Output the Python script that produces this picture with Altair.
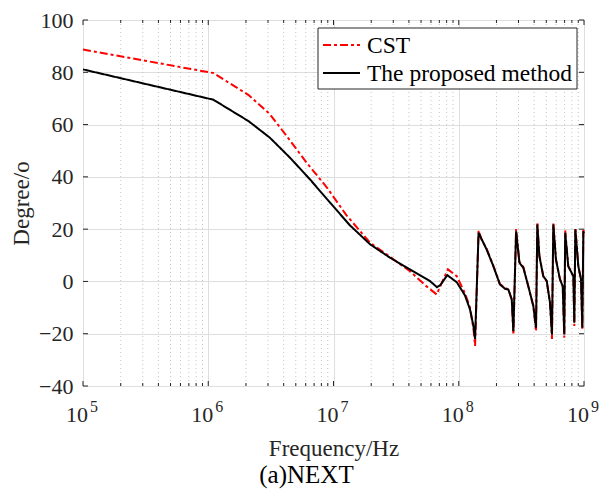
import altair as alt
import pandas as pd

# ---------------- data ----------------
series_names = ["CST", "The proposed method"]

cst_freq = [1e5, 1.1e6, 2.1e6, 3.1e6, 4.23e6, 6.11e6, 8.83e6, 1.27e7, 1.96e7, 2.82e7,
            4.08e7, 5.5e7, 6.67e7, 7.4e7, 8.2e7, 9.64e7, 1.12e8, 1.23e8, 1.31e8, 1.35e8,
            1.44e8, 1.52e8, 1.67e8, 1.89e8, 2.13e8, 2.34e8, 2.49e8, 2.65e8, 2.73e8, 2.87e8,
            3.05e8, 3.28e8, 3.59e8, 3.94e8, 4.14e8, 4.24e8, 4.40e8, 4.73e8, 5.04e8, 5.35e8,
            5.55e8, 5.69e8, 5.97e8, 6.43e8, 6.76e8, 6.96e8, 7.08e8, 7.49e8, 8.22e8, 8.37e8,
            8.53e8, 9.01e8, 9.46e8, 9.70e8, 9.88e8, 1e9]
cst_deg = [88.7, 79.7, 71.3, 64.0, 55.6, 45.4, 36.0, 25.3, 14.8, 9.4,
           3.9, -1.8, -5.0, 0.0, 4.6, 2.0, -4.5, -10.0, -18.0, -24.7,
           19.5, 16.0, 12.5, 6.0, -1.0, -2.5, -3.0, -7.0, -20.5, 20.0,
           7.5, 5.5, -1.8, -9.4, -19.0, 22.2, 10.0, 2.0, 0.0, -8.0,
           -22.0, 22.2, 8.5, 0.8, -1.8, -21.5, 19.5, 5.8, 2.0, -17.0,
           20.6, 5.8, 0.8, -18.5, 20.3, 19.5]

prop_freq = [1e5, 1.1e6, 2.1e6, 3.1e6, 4.5e6, 6.5e6, 9.4e6, 1.35e7, 1.96e7, 2.82e7,
             4.08e7, 5.9e7, 6.7e7, 7.1e7, 8.1e7, 9.64e7, 1.12e8, 1.23e8, 1.31e8, 1.35e8,
             1.44e8, 1.67e8, 1.89e8, 2.13e8, 2.34e8, 2.49e8, 2.65e8, 2.73e8, 2.87e8,
             3.05e8, 3.28e8, 3.59e8, 3.94e8, 4.14e8, 4.24e8, 4.40e8, 4.73e8, 5.04e8, 5.35e8,
             5.55e8, 5.69e8, 5.97e8, 6.43e8, 6.76e8, 6.96e8, 7.08e8, 7.49e8, 8.22e8, 8.37e8,
             8.53e8, 9.01e8, 9.46e8, 9.70e8, 9.88e8, 1e9]
prop_deg = [81.1, 69.5, 61.3, 55.0, 47.3, 39.0, 30.1, 21.5, 14.2, 9.1,
            4.6, 0.1, -2.2, -1.5, 2.4, -0.3, -5.3, -10.7, -17.1, -22.0,
            18.6, 12.2, 5.8, -1.1, -2.8, -3.1, -6.9, -19.0, 19.2,
            7.2, 5.2, -1.8, -9.4, -17.7, 21.8, 9.7, 2.0, 0.2, -8.1,
            -20.3, 21.8, 8.4, 0.8, -1.8, -20.3, 18.6, 5.8, 2.0, -15.8,
            19.9, 5.8, 0.8, -17.7, 19.2, 18.5]

x_ticks = [1e5, 1e6, 1e7, 1e8, 1e9]
x_tick_base = ["10", "10", "10", "10", "10"]
x_tick_exp = ["5", "6", "7", "8", "9"]
y_ticks = [-40, -20, 0, 20, 40, 60, 80, 100]
minor_x = [m * 10 ** k for k in range(5, 9) for m in range(2, 10)]
caption = "(a)NEXT"

# ---------------- style ----------------
W, H = 501, 366
FONT = "Liberation Serif"
TXT = "#262626"
X_MIN, X_MAX = 1e5, 1e9
Y_MIN, Y_MAX = -40, 100
COLORS = ["#ff0000", "#000000"]
DASHES = [[8, 3, 3, 3], [1, 0]]

df = pd.concat([
    pd.DataFrame({"freq": cst_freq, "deg": cst_deg, "series": series_names[0]}),
    pd.DataFrame({"freq": prop_freq, "deg": prop_deg, "series": series_names[1]}),
])

x_scale = alt.Scale(type="log", domain=[X_MIN, X_MAX], nice=False)
y_scale = alt.Scale(domain=[Y_MIN, Y_MAX], nice=False, zero=False)

x_axis = alt.Axis(values=x_ticks, labels=False, ticks=False, domain=False,
                  grid=True, gridColor="#dedede", gridWidth=1,
                  title="Frequency/Hz", titleFont=FONT, titleFontSize=23,
                  titleFontWeight="normal", titleColor=TXT,
                  titleX=W / 2, titleY=69, titleBaseline="alphabetic",
                  titleAlign="center")
y_axis = alt.Axis(values=y_ticks, ticks=False, domain=False, grid=True,
                  gridColor="#dedede", gridWidth=1,
                  labelFont=FONT, labelFontSize=22, labelColor=TXT, labelPadding=10,
                  title="Degree/o", titleFont=FONT, titleFontSize=23,
                  titleFontWeight="normal", titleColor=TXT,
                  titleX=-62, titleY=H / 2, titleAngle=-90,
                  titleBaseline="middle", titleAlign="center")

# inward tick segments
px_y = (Y_MAX - Y_MIN) / H
px_x = 4.0 / W  # decades per pixel
segs = []
for xt in x_ticks:
    segs.append({"x": xt, "x2": xt, "y": Y_MIN, "y2": Y_MIN + 5 * px_y})
    segs.append({"x": xt, "x2": xt, "y": Y_MAX, "y2": Y_MAX - 5 * px_y})
for xm in minor_x:
    segs.append({"x": xm, "x2": xm, "y": Y_MIN, "y2": Y_MIN + 3 * px_y})
    segs.append({"x": xm, "x2": xm, "y": Y_MAX, "y2": Y_MAX - 3 * px_y})
for yt in y_ticks:
    segs.append({"x": X_MIN, "x2": X_MIN * 10 ** (5 * px_x), "y": yt, "y2": yt})
    segs.append({"x": X_MAX, "x2": X_MAX / 10 ** (5 * px_x), "y": yt, "y2": yt})
seg_df = pd.DataFrame(segs)

minor_grid = alt.Chart(pd.DataFrame({"x": minor_x})).mark_rule(
    color="#c4c4c4", strokeWidth=1, strokeDash=[1, 3]
).encode(x=alt.X("x:Q", scale=x_scale, axis=x_axis))

lines = alt.Chart(df).mark_line(strokeWidth=2).encode(
    x=alt.X("freq:Q", scale=x_scale, axis=x_axis),
    y=alt.Y("deg:Q", scale=y_scale, axis=y_axis),
    color=alt.Color("series:N", scale=alt.Scale(domain=series_names, range=COLORS), legend=None),
    strokeDash=alt.StrokeDash("series:N", scale=alt.Scale(domain=series_names, range=DASHES),
                              legend=None),
)

ticks = alt.Chart(seg_df).mark_rule(color=TXT, strokeWidth=1).encode(
    x=alt.X("x:Q", scale=x_scale, axis=x_axis), x2="x2",
    y=alt.Y("y:Q", scale=y_scale, axis=y_axis), y2="y2",
)

lab_df = pd.DataFrame({"x": x_ticks, "base": x_tick_base, "exp": x_tick_exp})
lab_base = alt.Chart(lab_df).mark_text(
    align="right", baseline="alphabetic", dx=5, font=FONT, fontSize=22, color=TXT
).encode(x=alt.X("x:Q", scale=x_scale, axis=x_axis), y=alt.value(H + 36), text="base:N")
lab_exp = alt.Chart(lab_df).mark_text(
    align="left", baseline="alphabetic", dx=7, font=FONT, fontSize=16, color=TXT
).encode(x=alt.X("x:Q", scale=x_scale, axis=x_axis), y=alt.value(H + 26), text="exp:N")

# ---------------- legend (drawn by hand, top right) ----------------
LX0, LX1, LY0, LY1 = 235, 494, 8, 69
leg_box = alt.Chart(pd.DataFrame({"k": [0]})).mark_rect(
    fill="white", stroke=TXT, strokeWidth=1
).encode(x=alt.value(LX0), x2=alt.value(LX1), y=alt.value(LY0), y2=alt.value(LY1))

leg_layers = [leg_box]
for i, name in enumerate(series_names):
    ly = 25 + 28 * i
    one = pd.DataFrame({"label": [name]})
    leg_layers.append(alt.Chart(one).mark_rule(
        color=COLORS[i], strokeDash=DASHES[i], strokeWidth=2
    ).encode(x=alt.value(240), x2=alt.value(277), y=alt.value(ly)))
    leg_layers.append(alt.Chart(one).mark_text(
        align="left", baseline="middle", font=FONT, fontSize=23.5, color="black"
    ).encode(x=alt.value(284), y=alt.value(ly + 1), text="label:N"))

# caption under the figure
cap = alt.Chart(pd.DataFrame({"t": [caption]})).mark_text(
    align="center", baseline="alphabetic", font=FONT, fontSize=25, color="black"
).encode(x=alt.value(W / 2 - 27), y=alt.value(H + 97), text="t:N")

chart = alt.layer(minor_grid, lines, ticks, lab_base, lab_exp, *leg_layers, cap).properties(
    width=W, height=H,
    autosize=alt.AutoSizeParams(type="none"),
    padding={"left": 83, "top": 20, "right": 16, "bottom": 103},
).configure_view(stroke=TXT, strokeWidth=1).configure(background="white")

chart.save("out.html", embed_options={"renderer": "svg", "actions": False})
